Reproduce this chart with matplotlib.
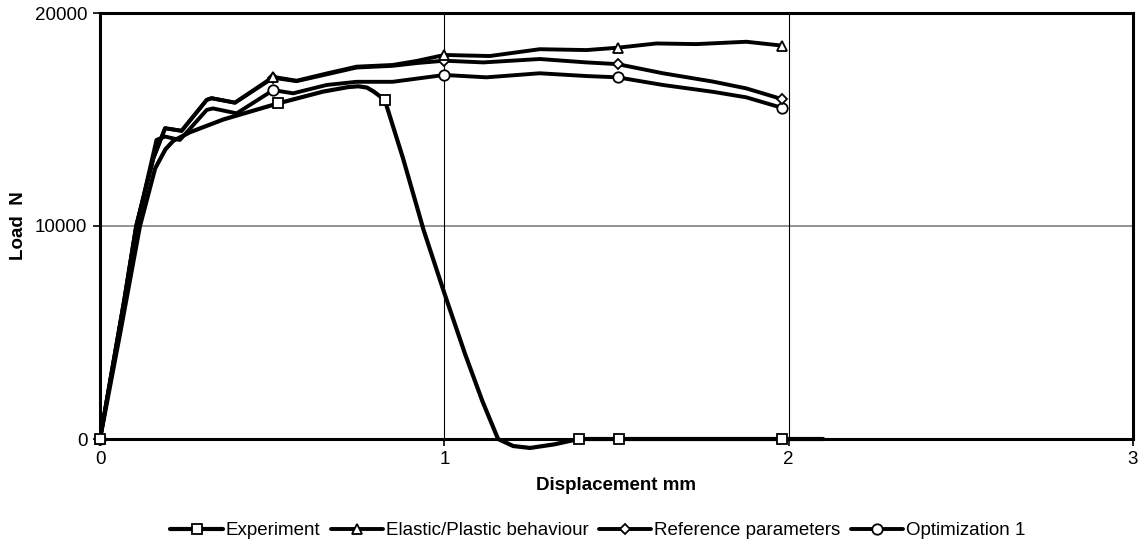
import numpy as np
import matplotlib
matplotlib.use('Agg')
import matplotlib.pyplot as plt

plt.rcParams['font.family'] = ['Liberation Sans', 'DejaVu Sans']

# Experiment (square markers)
exp_x = [0, 0.06, 0.116, 0.16, 0.19, 0.213, 0.261, 0.358, 0.518, 0.648, 0.72, 0.75, 0.775, 0.795, 0.827,
         0.88, 0.94, 1.0, 1.06, 1.11, 1.156, 1.2, 1.249, 1.32, 1.39, 1.507, 1.98, 2.1]
exp_y = [0, 5100, 10000, 12700, 13600, 14000, 14400, 15000, 15760, 16310, 16520, 16560, 16500, 16310, 15920,
         13180, 9800, 6850, 4000, 1800, 0, -330, -420, -250, 0, 0, 0, 0]
exp_marks = [0, 8, 14, 24, 25, 26]

# Elastic/Plastic behaviour (triangle markers)
ep_x = [0, 0.07, 0.105, 0.155, 0.189, 0.237, 0.31, 0.324, 0.392, 0.503, 0.571, 0.658, 0.745, 0.85,
        0.92, 1.0, 1.132, 1.277, 1.413, 1.503, 1.616, 1.732, 1.877, 1.98]
ep_y = [0, 6500, 10000, 13180, 14590, 14470, 15920, 16000, 15790, 17000, 16820, 17160, 17480, 17560,
        17750, 18030, 17980, 18300, 18260, 18370, 18570, 18540, 18650, 18470]
ep_marks = [0, 9, 15, 19, 23]

# Reference parameters (diamond markers)
ref_x = [0, 0.07, 0.105, 0.155, 0.189, 0.237, 0.31, 0.324, 0.392, 0.503, 0.571, 0.658, 0.745, 0.85,
         0.92, 1.0, 1.113, 1.277, 1.413, 1.503, 1.635, 1.78, 1.877, 1.98]
ref_y = [0, 6500, 10000, 13180, 14590, 14470, 15920, 16000, 15790, 16960, 16800, 17120, 17440, 17520,
         17650, 17760, 17680, 17840, 17680, 17600, 17170, 16780, 16460, 15960]
ref_marks = [0, 9, 15, 19, 23]

# Optimization 1 (circle markers)
opt_x = [0, 0.07, 0.105, 0.164, 0.189, 0.232, 0.31, 0.328, 0.397, 0.503, 0.561, 0.658, 0.745, 0.85,
         1.0, 1.122, 1.277, 1.413, 1.503, 1.635, 1.78, 1.877, 1.98]
opt_y = [0, 6400, 9900, 14040, 14200, 14040, 15450, 15520, 15290, 16380, 16230, 16620, 16770, 16770,
         17090, 16980, 17170, 17040, 16980, 16620, 16300, 16040, 15550]
opt_marks = [0, 9, 14, 18, 22]

series = [
    (exp_x, exp_y, exp_marks, 's', 'Experiment', 3.0),
    (ep_x, ep_y, ep_marks, '^', 'Elastic/Plastic behaviour', 2.8),
    (ref_x, ref_y, ref_marks, 'D', 'Reference parameters', 2.8),
    (opt_x, opt_y, opt_marks, 'o', 'Optimization 1', 2.8),
]
msize = {'s': 7.5, '^': 7.5, 'D': 5.5, 'o': 7.5}

fig = plt.figure(figsize=(11.41, 5.5), dpi=100)
ax = fig.add_axes([100 / 1141, 1 - 439 / 550, 1033 / 1141, 426 / 550])

for x, y, marks, m, lab, lw in series[::-1]:
    ax.plot(x, y, color='black', lw=lw, marker=m, markevery=marks, markersize=msize[m],
            markerfacecolor='white', markeredgecolor='black', markeredgewidth=1.3,
            solid_joinstyle='round', solid_capstyle='round', label=lab, zorder=3)

ax.set_xlim(0, 3)
ax.set_ylim(0, 20000)
ax.set_xticks([0, 1, 2, 3])
ax.set_yticks([0, 10000, 20000])
ax.axhline(10000, color='#808080', lw=1.2, zorder=1)
for xv in [1, 2]:
    ax.axvline(xv, color='black', lw=0.8, zorder=1)

for sp in ax.spines.values():
    sp.set_linewidth(2.2)
ax.tick_params(direction='out', length=5, width=1.2, labelsize=13.5, pad=4)
for line in ax.lines:
    line.set_clip_on(False)

ax.set_xlabel('Displacement mm', fontsize=13.5, fontweight='bold', labelpad=6)
ax.set_ylabel('Load  N', fontsize=13.5, fontweight='bold', labelpad=6)

handles, labels = ax.get_legend_handles_labels()
ax.legend(handles[::-1], labels[::-1], loc='center', bbox_to_anchor=(0.482, -0.215),
          ncol=4, frameon=False, fontsize=13.5, handlelength=2.8, handletextpad=0.15,
          columnspacing=0.55)

fig.savefig('out.png', dpi=100)
